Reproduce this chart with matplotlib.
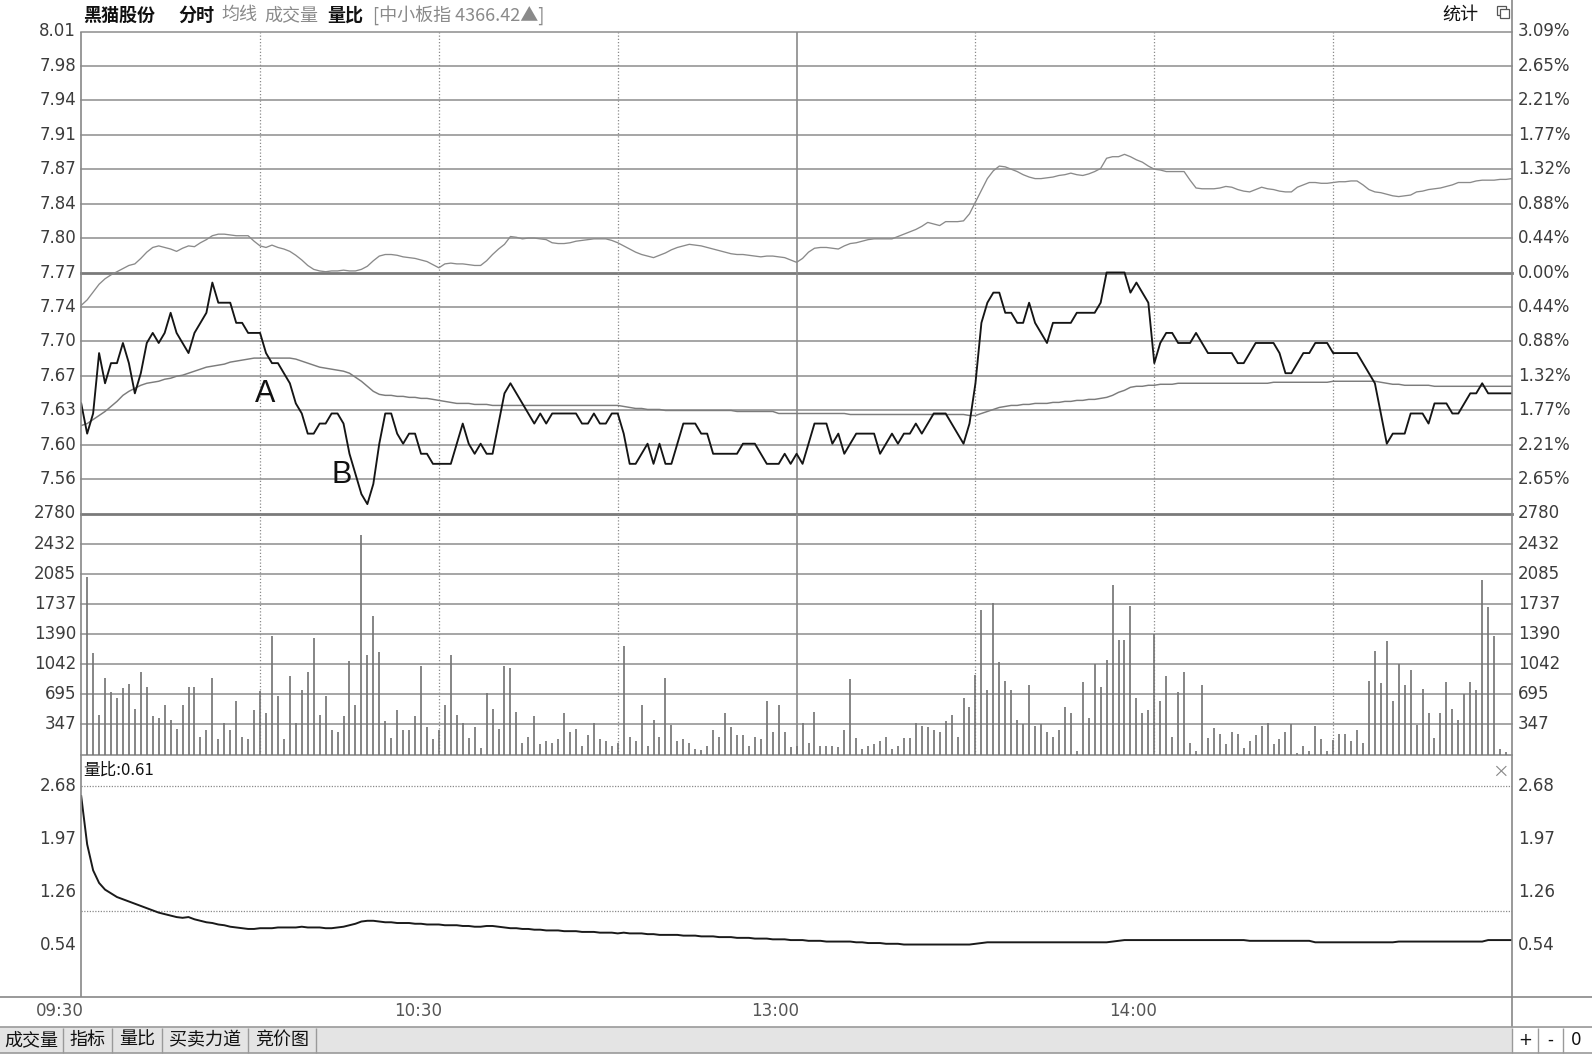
import matplotlib
matplotlib.use("Agg")
import matplotlib.pyplot as plt
from matplotlib.lines import Line2D
from matplotlib.patches import Rectangle

# ------------------------------------------------------------------ data
preclose = 7.77
grid_step_pct = 0.44          # price grid spacing in percent of preclose

# minute index 0..240 (09:30 .. 15:00, lunch break removed)
price = [
    7.64, 7.61, 7.63, 7.69, 7.66, 7.68, 7.68, 7.70, 7.68, 7.65,
    7.67, 7.70, 7.71, 7.70, 7.71, 7.73, 7.71, 7.70, 7.69, 7.71,
    7.72, 7.73, 7.76, 7.74, 7.74, 7.74, 7.72, 7.72, 7.71, 7.71,
    7.71, 7.69, 7.68, 7.68, 7.67, 7.66, 7.64, 7.63, 7.61, 7.61,
    7.62, 7.62, 7.63, 7.63, 7.62, 7.59, 7.57, 7.55, 7.54, 7.56,
    7.60, 7.63, 7.63, 7.61, 7.60, 7.61, 7.61, 7.59, 7.59, 7.58,
    7.58, 7.58, 7.58, 7.60, 7.62, 7.60, 7.59, 7.60, 7.59, 7.59,
    7.62, 7.65, 7.66, 7.65, 7.64, 7.63, 7.62, 7.63, 7.62, 7.63,
    7.63, 7.63, 7.63, 7.63, 7.62, 7.62, 7.63, 7.62, 7.62, 7.63,
    7.63, 7.61, 7.58, 7.58, 7.59, 7.60, 7.58, 7.60, 7.58, 7.58,
    7.60, 7.62, 7.62, 7.62, 7.61, 7.61, 7.59, 7.59, 7.59, 7.59,
    7.59, 7.60, 7.60, 7.60, 7.59, 7.58, 7.58, 7.58, 7.59, 7.58,
    7.59, 7.58, 7.60, 7.62, 7.62, 7.62, 7.60, 7.61, 7.59, 7.60,
    7.61, 7.61, 7.61, 7.61, 7.59, 7.60, 7.61, 7.60, 7.61, 7.61,
    7.62, 7.61, 7.62, 7.63, 7.63, 7.63, 7.62, 7.61, 7.60, 7.62,
    7.66, 7.72, 7.74, 7.75, 7.75, 7.73, 7.73, 7.72, 7.72, 7.74,
    7.72, 7.71, 7.70, 7.72, 7.72, 7.72, 7.72, 7.73, 7.73, 7.73,
    7.73, 7.74, 7.77, 7.77, 7.77, 7.77, 7.75, 7.76, 7.75, 7.74,
    7.68, 7.70, 7.71, 7.71, 7.70, 7.70, 7.70, 7.71, 7.70, 7.69,
    7.69, 7.69, 7.69, 7.69, 7.68, 7.68, 7.69, 7.70, 7.70, 7.70,
    7.70, 7.69, 7.67, 7.67, 7.68, 7.69, 7.69, 7.70, 7.70, 7.70,
    7.69, 7.69, 7.69, 7.69, 7.69, 7.68, 7.67, 7.66, 7.63, 7.60,
    7.61, 7.61, 7.61, 7.63, 7.63, 7.63, 7.62, 7.64, 7.64, 7.64,
    7.63, 7.63, 7.64, 7.65, 7.65, 7.66, 7.65, 7.65, 7.65, 7.65,
    7.65,
]

avg_price = [
    7.618, 7.620, 7.624, 7.628, 7.632, 7.637, 7.642, 7.648, 7.652, 7.655,
    7.658, 7.660, 7.661, 7.662, 7.664, 7.665, 7.667, 7.668, 7.670, 7.672,
    7.674, 7.676, 7.677, 7.678, 7.679, 7.681, 7.682, 7.683, 7.684, 7.685,
    7.685, 7.685, 7.685, 7.685, 7.685, 7.685, 7.684, 7.682, 7.680, 7.678,
    7.676, 7.675, 7.674, 7.673, 7.672, 7.670, 7.666, 7.662, 7.657, 7.652,
    7.649, 7.648, 7.648, 7.647, 7.647, 7.646, 7.646, 7.645, 7.645, 7.644,
    7.643, 7.642, 7.641, 7.640, 7.640, 7.640, 7.639, 7.639, 7.639, 7.638,
    7.638, 7.638, 7.638, 7.638, 7.638, 7.638, 7.638, 7.638, 7.638, 7.638,
    7.638, 7.638, 7.638, 7.638, 7.638, 7.638, 7.638, 7.638, 7.638, 7.638,
    7.638, 7.637, 7.636, 7.635, 7.635, 7.634, 7.634, 7.634, 7.633, 7.633,
    7.633, 7.633, 7.633, 7.633, 7.633, 7.633, 7.633, 7.633, 7.633, 7.633,
    7.632, 7.632, 7.632, 7.632, 7.632, 7.632, 7.632, 7.630, 7.630, 7.630,
    7.630, 7.630, 7.630, 7.630, 7.630, 7.630, 7.630, 7.630, 7.630, 7.629,
    7.629, 7.629, 7.629, 7.629, 7.629, 7.629, 7.629, 7.629, 7.629, 7.629,
    7.629, 7.629, 7.629, 7.629, 7.629, 7.629, 7.629, 7.629, 7.629, 7.628,
    7.628, 7.630, 7.632, 7.634, 7.636, 7.637, 7.638, 7.638, 7.639, 7.639,
    7.640, 7.640, 7.640, 7.641, 7.641, 7.642, 7.642, 7.643, 7.643, 7.644,
    7.644, 7.645, 7.646, 7.648, 7.651, 7.653, 7.656, 7.657, 7.657, 7.658,
    7.658, 7.659, 7.659, 7.659, 7.660, 7.660, 7.660, 7.660, 7.660, 7.660,
    7.660, 7.660, 7.660, 7.660, 7.660, 7.660, 7.660, 7.660, 7.660, 7.660,
    7.661, 7.661, 7.661, 7.661, 7.661, 7.661, 7.661, 7.661, 7.661, 7.661,
    7.662, 7.662, 7.662, 7.662, 7.662, 7.662, 7.662, 7.662, 7.661, 7.660,
    7.659, 7.659, 7.658, 7.658, 7.658, 7.658, 7.658, 7.657, 7.657, 7.657,
    7.657, 7.657, 7.657, 7.657, 7.657, 7.657, 7.657, 7.657, 7.657, 7.657,
    7.657,
]

# 中小板指, percent change vs its previous close
index_pct = [
    -0.42, -0.35, -0.25, -0.15, -0.08, -0.03, 0.01, 0.05, 0.09, 0.11,
    0.18, 0.26, 0.32, 0.34, 0.32, 0.30, 0.27, 0.31, 0.34, 0.33,
    0.38, 0.42, 0.47, 0.49, 0.49, 0.48, 0.47, 0.47, 0.47, 0.40,
    0.34, 0.32, 0.35, 0.32, 0.30, 0.27, 0.22, 0.16, 0.09, 0.04,
    0.02, 0.01, 0.02, 0.02, 0.03, 0.02, 0.02, 0.04, 0.08, 0.15,
    0.21, 0.23, 0.23, 0.22, 0.20, 0.19, 0.18, 0.16, 0.14, 0.10,
    0.06, 0.11, 0.12, 0.11, 0.11, 0.10, 0.09, 0.09, 0.15, 0.23,
    0.30, 0.36, 0.46, 0.45, 0.43, 0.44, 0.44, 0.43, 0.42, 0.38,
    0.37, 0.37, 0.38, 0.40, 0.41, 0.42, 0.43, 0.43, 0.43, 0.41,
    0.38, 0.34, 0.30, 0.26, 0.23, 0.21, 0.19, 0.22, 0.25, 0.29,
    0.32, 0.34, 0.36, 0.35, 0.34, 0.32, 0.30, 0.28, 0.26, 0.24,
    0.23, 0.23, 0.22, 0.21, 0.20, 0.21, 0.21, 0.20, 0.19, 0.16,
    0.13, 0.18, 0.26, 0.31, 0.32, 0.32, 0.31, 0.30, 0.34, 0.37,
    0.38, 0.40, 0.42, 0.43, 0.43, 0.43, 0.43, 0.46, 0.49, 0.52,
    0.55, 0.59, 0.64, 0.62, 0.60, 0.65, 0.65, 0.65, 0.66, 0.75,
    0.90, 1.05, 1.20, 1.30, 1.36, 1.35, 1.32, 1.29, 1.25, 1.22,
    1.20, 1.20, 1.21, 1.22, 1.24, 1.25, 1.27, 1.25, 1.24, 1.26,
    1.29, 1.33, 1.46, 1.48, 1.48, 1.51, 1.48, 1.44, 1.41, 1.36,
    1.32, 1.31, 1.29, 1.29, 1.29, 1.29, 1.18, 1.08, 1.07, 1.07,
    1.07, 1.08, 1.10, 1.09, 1.06, 1.04, 1.03, 1.06, 1.09, 1.07,
    1.06, 1.04, 1.03, 1.03, 1.09, 1.12, 1.15, 1.15, 1.14, 1.14,
    1.15, 1.16, 1.16, 1.17, 1.17, 1.12, 1.06, 1.03, 1.02, 1.00,
    0.98, 0.97, 0.98, 0.99, 1.03, 1.04, 1.06, 1.07, 1.08, 1.10,
    1.12, 1.15, 1.15, 1.15, 1.17, 1.18, 1.18, 1.18, 1.19, 1.19,
    1.20,
]

# volume, minutes 1..240
volume = [
    2046, 1166, 456, 888, 726, 656, 764, 819, 529, 946,
    780, 440, 425, 568, 402, 297, 568, 780, 780, 205,
    278, 888, 174, 363, 278, 618, 205, 174, 514, 734,
    475, 1363, 676, 174, 907, 363, 745, 946, 1344, 456,
    676, 278, 263, 440, 1073, 568, 2537, 1147, 1595, 1185,
    382, 189, 514, 278, 278, 440, 1019, 313, 174, 278,
    568, 1147, 456, 359, 189, 313, 77, 707, 529, 297,
    1019, 1000, 494, 135, 205, 440, 116, 154, 135, 174,
    479, 263, 297, 97, 224, 359, 174, 154, 97, 135,
    1255, 205, 154, 568, 97, 402, 205, 888, 336, 154,
    174, 135, 66, 50, 97, 278, 205, 479, 317, 224,
    224, 97, 205, 174, 618, 263, 568, 263, 81, 100,
    359, 135, 494, 97, 97, 97, 81, 278, 869, 189,
    66, 97, 116, 154, 205, 66, 97, 189, 189, 359,
    328, 317, 278, 263, 382, 456, 205, 656, 548, 919,
    1668, 741, 1745, 1069, 849, 745, 398, 355, 803, 328,
    355, 259, 205, 278, 548, 475, 39, 838, 417, 1042,
    780, 1089, 1958, 1324, 1324, 1718, 656, 475, 510, 1390,
    618, 907, 201, 722, 946, 135, 39, 803, 185, 309,
    239, 116, 259, 239, 77, 154, 220, 328, 359, 116,
    174, 259, 355, 19, 97, 39, 328, 174, 39, 166,
    239, 239, 154, 278, 135, 849, 1197, 822, 1305, 618,
    1042, 803, 977, 336, 761, 475, 185, 475, 838, 529,
    402, 703, 838, 741, 2015, 1707, 1363, 58, 30, 0,
]

vol_ratio = [
    2.55, 1.90, 1.55, 1.38, 1.29, 1.24, 1.19, 1.16, 1.13, 1.10,
    1.07, 1.04, 1.01, 0.98, 0.96, 0.94, 0.92, 0.91, 0.92, 0.89,
    0.87, 0.85, 0.84, 0.82, 0.81, 0.79, 0.78, 0.77, 0.76, 0.76,
    0.77, 0.77, 0.77, 0.78, 0.78, 0.78, 0.78, 0.79, 0.78, 0.78,
    0.78, 0.77, 0.77, 0.78, 0.79, 0.81, 0.83, 0.86, 0.87, 0.87,
    0.86, 0.85, 0.85, 0.84, 0.84, 0.84, 0.83, 0.83, 0.82, 0.82,
    0.82, 0.81, 0.81, 0.81, 0.80, 0.80, 0.79, 0.79, 0.80, 0.80,
    0.79, 0.78, 0.77, 0.77, 0.76, 0.76, 0.75, 0.75, 0.74, 0.74,
    0.74, 0.73, 0.73, 0.73, 0.72, 0.72, 0.72, 0.71, 0.71, 0.71,
    0.70, 0.71, 0.70, 0.70, 0.70, 0.69, 0.69, 0.68, 0.68, 0.68,
    0.68, 0.67, 0.67, 0.67, 0.66, 0.66, 0.66, 0.65, 0.65, 0.65,
    0.64, 0.64, 0.64, 0.63, 0.63, 0.63, 0.62, 0.62, 0.62, 0.61,
    0.61, 0.61, 0.60, 0.60, 0.60, 0.59, 0.59, 0.59, 0.59, 0.59,
    0.58, 0.58, 0.57, 0.57, 0.57, 0.56, 0.56, 0.56, 0.55, 0.55,
    0.55, 0.55, 0.55, 0.55, 0.55, 0.55, 0.55, 0.55, 0.55, 0.55,
    0.56, 0.57, 0.58, 0.58, 0.58, 0.58, 0.58, 0.58, 0.58, 0.58,
    0.58, 0.58, 0.58, 0.58, 0.58, 0.58, 0.58, 0.58, 0.58, 0.58,
    0.58, 0.58, 0.58, 0.59, 0.60, 0.61, 0.61, 0.61, 0.61, 0.61,
    0.61, 0.61, 0.61, 0.61, 0.61, 0.61, 0.61, 0.61, 0.61, 0.61,
    0.61, 0.61, 0.61, 0.61, 0.61, 0.61, 0.60, 0.60, 0.60, 0.60,
    0.60, 0.60, 0.60, 0.60, 0.60, 0.60, 0.60, 0.58, 0.58, 0.58,
    0.58, 0.58, 0.58, 0.58, 0.58, 0.58, 0.58, 0.58, 0.58, 0.58,
    0.58, 0.59, 0.59, 0.59, 0.59, 0.59, 0.59, 0.59, 0.59, 0.59,
    0.59, 0.59, 0.59, 0.59, 0.59, 0.59, 0.61, 0.61, 0.61, 0.61,
    0.61,
]

price_labels = ['8.01', '7.98', '7.94', '7.91', '7.87', '7.84', '7.80',
                '7.77', '7.74', '7.70', '7.67', '7.63', '7.60', '7.56']
pct_labels = ['3.09%', '2.65%', '2.21%', '1.77%', '1.32%', '0.88%', '0.44%',
              '0.00%', '0.44%', '0.88%', '1.32%', '1.77%', '2.21%', '2.65%']
vol_max = 2780
vol_labels = ['2780', '2432', '2085', '1737', '1390', '1042', '695', '347']
ratio_ticks = [2.68, 1.97, 1.26, 0.54]
ratio_labels = ['2.68', '1.97', '1.26', '0.54']
ratio_ref = 1.0
time_labels = ['09:30', '10:30', '13:00', '14:00']
time_pos = [0, 60, 120, 180]
vgrid_dotted = [30, 60, 90, 150, 180, 210]
vgrid_solid = [120]
tabs = ['成交量', '指标', '量比', '买卖力道', '竞价图']

# ------------------------------------------------------------------ figure
W, H = 1592, 1054
fig = plt.figure(figsize=(W / 100, H / 100), dpi=100)
fig.patch.set_facecolor('white')
plt.rcParams['font.family'] = ['DejaVu Sans']
CJK = ['Noto Sans CJK SC', 'DejaVu Sans']

GRID = '#8d8d8d'
LBL = '#3c3c3c'
X0, X1 = 81.2, 1512.0


def add_ax(x0, y0, x1, y1):
    ax = fig.add_axes([x0 / W, 1 - y1 / H, (x1 - x0) / W, (y1 - y0) / H])
    ax.set_axis_off()
    ax.set_xlim(0, 240)
    return ax


def px_line(x0, y0, x1, y1, color='#888888', lw=1.0, ls='-'):
    fig.add_artist(Line2D([x0 / W, x1 / W], [1 - y0 / H, 1 - y1 / H],
                          transform=fig.transFigure, color=color, lw=lw,
                          ls=ls, solid_capstyle='butt'))


def px_text(x, y, s, **kw):
    kw.setdefault('va', 'center')
    fig.text(x / W, 1 - y / H, s, **kw)


def px_rect(x, y, w, h, **kw):
    fig.add_artist(Rectangle((x / W, 1 - (y + h) / H), w / W, h / H,
                             transform=fig.transFigure, **kw))


LX = -5.0 / (X1 - X0)
RX = 1 + 6.0 / (X1 - X0)
FS = 12

# ---------------- price panel
ax_p = add_ax(X0, 31.5, X1, 513.5)
step = preclose * grid_step_pct / 100
ax_p.set_ylim(preclose - 7 * step, preclose + 7 * step)
for j in range(-6, 8):
    lvl = preclose + j * step
    if j == 0:
        ax_p.axhline(lvl, color='#7a7a7a', lw=2.0, zorder=1, clip_on=False)
    else:
        ax_p.axhline(lvl, color=GRID, lw=1.1, zorder=1, clip_on=False)
for k, (pl, pc) in enumerate(zip(price_labels, pct_labels)):
    lvl = preclose + (7 - k) * step
    ax_p.text(LX, lvl, pl, transform=ax_p.get_yaxis_transform(), ha='right',
              va='center', fontsize=FS, color=LBL)
    ax_p.text(RX, lvl, pc, transform=ax_p.get_yaxis_transform(), ha='left',
              va='center', fontsize=FS, color=LBL)
for m in vgrid_dotted:
    ax_p.axvline(m, color='#8a8a8a', lw=0.9, ls=(0, (1, 1.6)), zorder=1)
for m in vgrid_solid:
    ax_p.axvline(m, color='#8a8a8a', lw=1.2, zorder=1)

minutes = list(range(len(price)))
index_price = [preclose * (1 + p / 100) for p in index_pct]
ax_p.plot(minutes, index_price, color='#8a8a8a', lw=0.95, zorder=2)
ax_p.plot(minutes, avg_price, color='#7c7c7c', lw=1.05, zorder=3)
ax_p.plot(minutes, price, color='#151515', lw=1.35, zorder=4)

ax_p.text(30.8, 7.649, 'A', fontsize=22, family='Liberation Sans',
          ha='center', va='center', color='#111111', zorder=5)
ax_p.text(43.6, 7.569, 'B', fontsize=22, family='Liberation Sans',
          ha='center', va='center', color='#111111', zorder=5)

# ---------------- volume panel
ax_v = add_ax(X0, 513.5, X1, 754.5)
ax_v.set_ylim(0, vol_max)
for k in range(1, 9):
    lvl = vol_max * k / 8
    if k == 8:
        ax_v.axhline(lvl, color='#7a7a7a', lw=2.0, zorder=1, clip_on=False)
    else:
        ax_v.axhline(lvl, color=GRID, lw=1.1, zorder=1, clip_on=False)
ax_v.axhline(0, color=GRID, lw=1.2, zorder=1, clip_on=False)
for k, vl in enumerate(vol_labels):
    lvl = vol_max * (8 - k) / 8
    ax_v.text(LX, lvl, vl, transform=ax_v.get_yaxis_transform(), ha='right',
              va='center', fontsize=FS, color=LBL)
    ax_v.text(RX, lvl, vl, transform=ax_v.get_yaxis_transform(), ha='left',
              va='center', fontsize=FS, color=LBL)
for m in vgrid_dotted:
    ax_v.axvline(m, color='#8a8a8a', lw=0.9, ls=(0, (1, 1.6)), zorder=1)
for m in vgrid_solid:
    ax_v.axvline(m, color='#8a8a8a', lw=1.2, zorder=1)
vol_minutes = list(range(1, len(volume) + 1))
ax_v.vlines(vol_minutes, 0, volume, color='#767676', lw=1.25, zorder=2)

# ---------------- volume-ratio panel
ax_r = add_ax(X0, 759, X1, 997)
ax_r.set_ylim(-0.157, 3.05)
ax_r.axhline(ratio_ticks[0], color='#8a8a8a', lw=0.9, ls=(0, (1, 1.2)))
ax_r.axhline(ratio_ref, color='#8a8a8a', lw=0.9, ls=(0, (1, 1.2)))
for t, tl in zip(ratio_ticks, ratio_labels):
    ax_r.text(LX, t, tl, transform=ax_r.get_yaxis_transform(), ha='right',
              va='center', fontsize=FS, color=LBL)
    ax_r.text(RX, t, tl, transform=ax_r.get_yaxis_transform(), ha='left',
              va='center', fontsize=FS, color=LBL)
ax_r.plot(list(range(len(vol_ratio))), vol_ratio, color='#1a1a1a', lw=1.4)
for m, tl in zip(time_pos, time_labels):
    ax_r.text(m + 0.5, -0.058, tl, transform=ax_r.get_xaxis_transform(),
              ha='right', va='center', fontsize=FS, color='#555555')

# ---------------- frame lines
px_line(X0, 31.5, X0, 997, color='#888888', lw=1.2)
px_line(X1, 0, X1, 1027, color='#888888', lw=1.2)
px_line(0, 997, W, 997, color='#888888', lw=1.2)

# ---------------- header texts
px_text(83, 15, '黑猫股份', family=CJK, fontsize=13, fontweight='bold', color='#111111')
px_text(178, 15, '分时', family=CJK, fontsize=13, fontweight='bold', color='#111111')
px_text(221, 15, '均线', family=CJK, fontsize=13, color='#8a8a8a')
px_text(264, 15, '成交量', family=CJK, fontsize=13, color='#8a8a8a')
px_text(327, 15, '量比', family=CJK, fontsize=13, fontweight='bold', color='#111111')
px_text(373, 15, '[中小板指 4366.42▲]', family=CJK, fontsize=13, color='#8a8a8a')
px_text(1442, 15, '统计', family=CJK, fontsize=13, color='#111111')
px_rect(1497, 6, 9, 9, fill=False, ec='#555555', lw=0.9)
px_rect(1500, 9, 9, 9, fc='white', ec='#555555', lw=0.9)

px_text(83, 770, '量比:0.61', family=CJK, fontsize=12, color='#111111')
px_text(1500, 772, '×', family=CJK, fontsize=12, color='#888888', ha='center')

# ---------------- bottom tab bar
px_rect(0, 1027, W, 26, fc='#e4e4e4', ec='none')
px_line(0, 1027, W, 1027, color='#9a9a9a', lw=1.2)
px_line(0, 1053, W, 1053, color='#9a9a9a', lw=1.2)
tab_edges = [0, 63, 112, 162, 248, 316]
for i, t in enumerate(tabs):
    px_text((tab_edges[i] + tab_edges[i + 1]) / 2, 1040, t, family=CJK,
            fontsize=13, color='#111111', ha='center')
    px_line(tab_edges[i + 1], 1028, tab_edges[i + 1], 1053, color='#9a9a9a', lw=1.0)
px_rect(1512, 1028, 80, 25, fc='white', ec='none')
for xe in [1512, 1538, 1563]:
    px_line(xe, 1028, xe, 1053, color='#9a9a9a', lw=1.0)
for xc, s in zip([1525, 1550, 1576], ['+', '-', '0']):
    px_text(xc, 1040, s, fontsize=12, color='#111111', ha='center')

fig.savefig('out.png', dpi=100, facecolor='white')
